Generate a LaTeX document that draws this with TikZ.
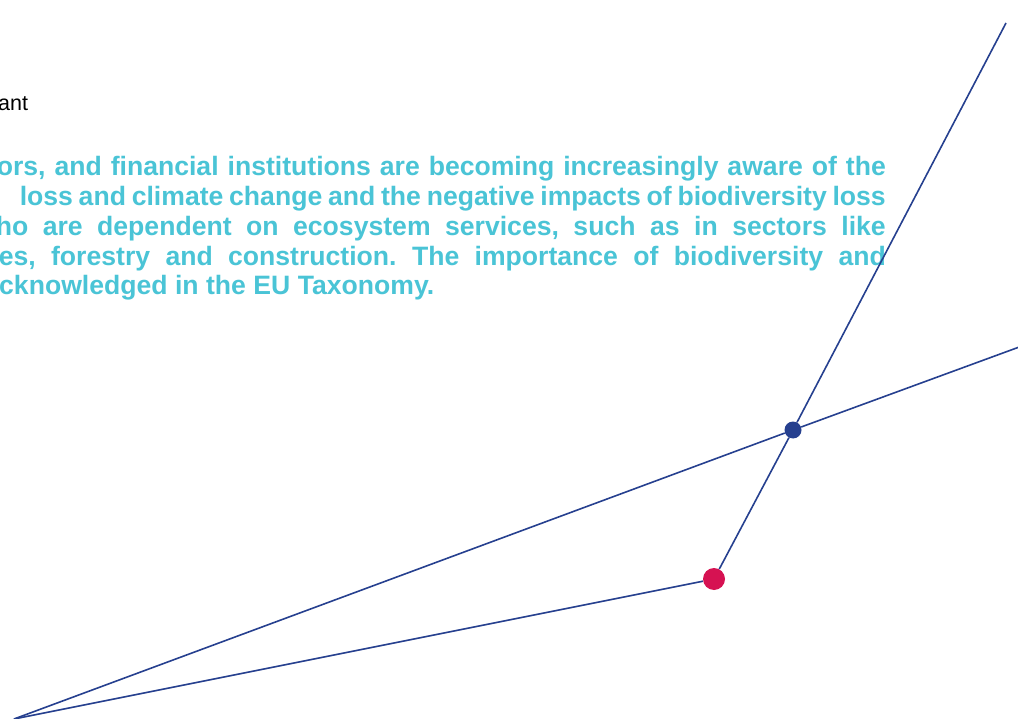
\documentclass[tikz,border=0pt]{standalone}
\usepackage{fontspec}
\setmainfont{Liberation Sans}
\definecolor{navy}{RGB}{38,64,143}
\definecolor{lagoon}{RGB}{74,196,214}
\definecolor{crimson}{RGB}{214,18,82}
\frenchspacing

\begin{document}
\begin{tikzpicture}[x=1pt,y=-1pt,
    link/.style={draw=navy,line width=1.6pt},
    dot/.style={circle,fill=#1,inner sep=0pt},
    para/.style={font=\fontsize{26.6}{30}\selectfont\bfseries,text=lagoon,inner sep=0pt}]

    \useasboundingbox (0,0) rectangle (1018,719);
    \clip (0,0) rectangle (1018,719);

    \node[anchor=base west,inner sep=0pt,font=\fontsize{21.5}{24}\selectfont] (Top) at (-2,111) {ant};
    \node[para,anchor=base east] (L1) at (886,176) {\makebox[889pt][s]{ors, and financial institutions are becoming increasingly aware of the}};
    \node[para,anchor=base east] (L2) at (886,206) {\makebox[866pt][s]{loss and climate change and the negative impacts of biodiversity loss}};
    \node[para,anchor=base east] (L3) at (886,236) {\makebox[890pt][s]{ho are dependent on ecosystem services, such as in sectors like}};
    \node[para,anchor=base east] (L4) at (886,266) {\makebox[887pt][s]{es, forestry and construction. The importance of biodiversity and}};
    \node[para,anchor=base west] (L5) at (-1,295) {cknowledged in the EU Taxonomy.};

    \coordinate (O) at (14,719);
    \coordinate (EA) at (1022,346);
    \coordinate (EC) at (1006,23);
    \node[dot=crimson,minimum size=22pt] (R) at (714,579) {};
    \node[dot=navy,minimum size=17pt] (B) at (793,430) {};
    \draw[link] (O) -- (B) -- (EA);
    \draw[link] (O) -- (R) -- (B) -- (EC);
\end{tikzpicture}
\end{document}
